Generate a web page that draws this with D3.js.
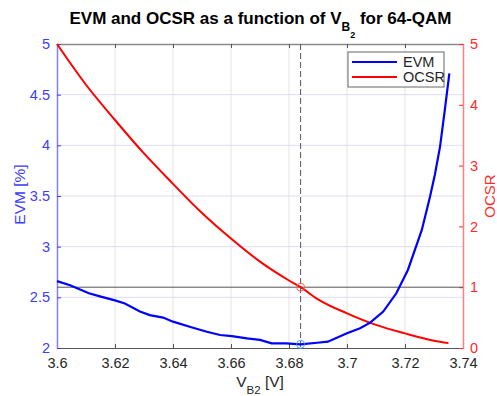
<!DOCTYPE html>
<html>
<head>
<meta charset="utf-8">
<script src="https://cdn.jsdelivr.net/npm/d3@7"></script>
<style>
  body { margin: 0; background: #fff; }
  svg { display: block; font-family: "Liberation Sans", Arial, sans-serif; }
</style>
</head>
<body>
<div id="chart"></div>
<script>
// EVM curve
const vb2Evm = [3.600, 3.6045, 3.611, 3.6148, 3.620, 3.6234, 3.6286, 3.632, 3.6366, 3.640,
  3.6469, 3.6517, 3.6562, 3.6603, 3.6655, 3.670, 3.674, 3.679, 3.684, 3.6897,
  3.6934, 3.700, 3.7045, 3.708, 3.7125, 3.717, 3.721, 3.7258, 3.7286, 3.7303,
  3.7321, 3.7336, 3.7353];
const evm = [2.66, 2.62, 2.54, 2.51, 2.47, 2.44, 2.36, 2.325, 2.30, 2.26,
  2.20, 2.16, 2.128, 2.118, 2.095, 2.08, 2.046, 2.046, 2.036, 2.052,
  2.062, 2.145, 2.195, 2.25, 2.36, 2.54, 2.77, 3.165, 3.49, 3.71,
  3.99, 4.32, 4.71];

// OCSR curve
const vb2Ocsr = [3.60, 3.61, 3.62, 3.63, 3.64, 3.65, 3.66, 3.67, 3.68, 3.684,
  3.69, 3.70, 3.71, 3.72, 3.73, 3.735];
const ocsr = [5.0, 4.33, 3.75, 3.20, 2.70, 2.22, 1.80, 1.42, 1.11, 1.0,
  0.80, 0.57, 0.38, 0.24, 0.12, 0.08];

// operating point
const opVb2 = 3.684;
const opEvm = 2.036;
const opOcsr = 1;

const xTicks = [3.6, 3.62, 3.64, 3.66, 3.68, 3.7, 3.72, 3.74];
const evmTicks = [2, 2.5, 3, 3.5, 4, 4.5, 5];
const ocsrTicks = [0, 1, 2, 3, 4, 5];

const W = 497, H = 396;
const mLeft = 57, mRight = 463, mTop = 44, mBottom = 348;
const blueAx = "#3c3cff", redAx = "#ff2a2a", textCol = "#262626";

const x = d3.scaleLinear().domain([3.6, 3.74]).range([mLeft, mRight]);
const yL = d3.scaleLinear().domain([2, 5]).range([mBottom, mTop]);
const yR = d3.scaleLinear().domain([0, 5]).range([mBottom, mTop]);

const svg = d3.select("#chart").append("svg")
  .attr("width", W)
  .attr("height", H);

// grid
svg.append("g").selectAll("line")
  .data(xTicks.slice(1, -1))
  .enter().append("line")
  .attr("x1", d => x(d)).attr("x2", d => x(d))
  .attr("y1", mTop).attr("y2", mBottom)
  .attr("stroke", "#e3e3e3").attr("stroke-width", 1);
svg.append("g").selectAll("line")
  .data(evmTicks.slice(1, -1))
  .enter().append("line")
  .attr("x1", mLeft).attr("x2", mRight)
  .attr("y1", d => yL(d)).attr("y2", d => yL(d))
  .attr("stroke", "#dcdcff").attr("stroke-width", 1);

// axes
let gx = svg.append("g")
  .attr("transform", "translate(0," + mBottom + ")")
  .call(d3.axisBottom(x).tickValues(xTicks).tickFormat(d3.format("")).tickSizeInner(-4).tickSizeOuter(0).tickPadding(10));
gx.select(".domain").attr("stroke", "#555");
gx.selectAll(".tick line").attr("stroke", "#555");
gx.selectAll("text").attr("font-size", 14.5).attr("fill", textCol);

let gt = svg.append("g")
  .attr("transform", "translate(0," + mTop + ")")
  .call(d3.axisTop(x).tickValues(xTicks).tickFormat("").tickSizeInner(-4).tickSizeOuter(0));
gt.select(".domain").attr("stroke", "#8c8c8c").attr("stroke-width", 1.5);
gt.selectAll(".tick line").attr("stroke", "#555");

let gl = svg.append("g")
  .attr("transform", "translate(" + mLeft + ",0)")
  .call(d3.axisLeft(yL).tickValues(evmTicks).tickFormat(d3.format("")).tickSizeInner(-4).tickSizeOuter(0).tickPadding(7));
gl.select(".domain").attr("stroke", "#8080ff").attr("stroke-width", 1.5);
gl.selectAll(".tick line").attr("stroke", blueAx);
gl.selectAll("text").attr("font-size", 14.5).attr("fill", blueAx);

let gr = svg.append("g")
  .attr("transform", "translate(" + mRight + ",0)")
  .call(d3.axisRight(yR).tickValues(ocsrTicks).tickFormat(d3.format("")).tickSizeInner(-4).tickSizeOuter(0).tickPadding(7));
gr.select(".domain").attr("stroke", "#ff8080").attr("stroke-width", 1.5);
gr.selectAll(".tick line").attr("stroke", redAx);
gr.selectAll("text").attr("font-size", 14.5).attr("fill", redAx);

// reference lines
svg.append("line")
  .attr("x1", mLeft).attr("x2", mRight)
  .attr("y1", yR(opOcsr)).attr("y2", yR(opOcsr))
  .attr("stroke", "#555").attr("stroke-width", 1);
svg.append("line")
  .attr("x1", x(opVb2)).attr("x2", x(opVb2))
  .attr("y1", mTop).attr("y2", mBottom)
  .attr("stroke", "#555").attr("stroke-width", 1)
  .attr("stroke-dasharray", "6,3");

// curves
let lineEvm = d3.line()
  .x((d, i) => x(vb2Evm[i]))
  .y(d => yL(d));
let lineOcsr = d3.line()
  .x((d, i) => x(vb2Ocsr[i]))
  .y(d => yR(d))
  .curve(d3.curveMonotoneX);

svg.append("path")
  .attr("d", lineOcsr(ocsr))
  .attr("fill", "none").attr("stroke", "#ff0000").attr("stroke-width", 2);
svg.append("path")
  .attr("d", lineEvm(evm))
  .attr("fill", "none").attr("stroke", "#0000ff").attr("stroke-width", 2.2);

// markers
svg.append("circle")
  .attr("cx", x(opVb2)).attr("cy", yR(opOcsr)).attr("r", 4)
  .attr("fill", "none").attr("stroke", "#ff6060").attr("stroke-width", 1);
svg.append("circle")
  .attr("cx", x(opVb2)).attr("cy", yL(opEvm)).attr("r", 4)
  .attr("fill", "none").attr("stroke", "#3aa0ff").attr("stroke-width", 1);

// legend
let lg = svg.append("g").attr("transform", "translate(348,52)");
lg.append("rect")
  .attr("width", 96).attr("height", 35)
  .attr("fill", "#fff").attr("stroke", "#666").attr("stroke-width", 1);
[["EVM", "#0000ff"], ["OCSR", "#ff0000"]].forEach((e, i) => {
  let yy = 10 + i * 15;
  lg.append("line")
    .attr("x1", 4).attr("x2", 49).attr("y1", yy).attr("y2", yy)
    .attr("stroke", e[1]).attr("stroke-width", 2);
  lg.append("text")
    .attr("x", 55).attr("y", yy).attr("dy", "0.35em")
    .attr("font-size", 14.5).attr("fill", textCol)
    .text(e[0]);
});

// title
let title = svg.append("text")
  .attr("x", 260.5).attr("y", 23.5)
  .attr("text-anchor", "middle")
  .attr("font-size", 17).attr("font-weight", "bold").attr("fill", "#000");
title.append("tspan").text("EVM and OCSR as a function of V");
title.append("tspan").attr("font-size", 12).attr("dy", 7.5).text("B");
title.append("tspan").attr("font-size", 9).attr("dy", 7).text("2");
title.append("tspan").attr("dy", -14.5).text("\u00a0for 64-QAM");

// axis labels
let xl = svg.append("text")
  .attr("x", 260).attr("y", 387)
  .attr("text-anchor", "middle")
  .attr("font-size", 15.5).attr("fill", textCol);
xl.append("tspan").text("V");
xl.append("tspan").attr("font-size", 11.5).attr("dy", 7).text("B2");
xl.append("tspan").attr("dy", -7).text(" [V]");

svg.append("text")
  .attr("transform", "translate(25,194.5) rotate(-90)")
  .attr("text-anchor", "middle")
  .attr("font-size", 15.5).attr("fill", blueAx)
  .text("EVM [%]");
svg.append("text")
  .attr("transform", "translate(494.5,196) rotate(-90)")
  .attr("text-anchor", "middle")
  .attr("font-size", 15).attr("fill", redAx)
  .text("OCSR");
</script>
</body>
</html>
